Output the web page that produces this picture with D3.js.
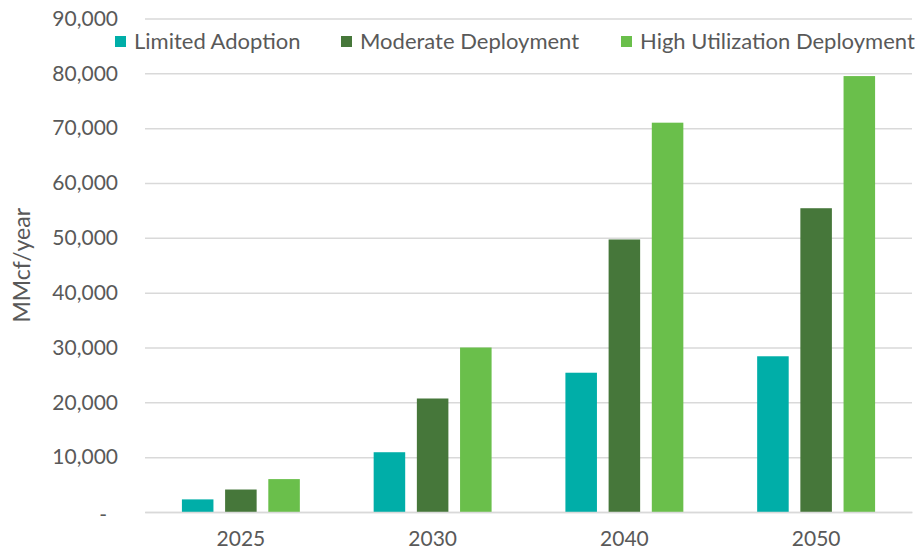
<!DOCTYPE html>
<html>
<head>
<meta charset="utf-8">
<script src="https://cdn.jsdelivr.net/npm/d3@7"></script>
<style>
  body { margin: 0; background: #fff; }
  svg text { font-family: Lato, "Open Sans", sans-serif; fill: #595959; }
</style>
</head>
<body>
<svg width="916" height="554"></svg>
<script>
// chart data
var years = ["2025", "2030", "2040", "2050"];
var seriesNames = ["Limited Adoption", "Moderate Deployment", "High Utilization Deployment"];
var limitedAdoption = [2300, 10900, 25400, 28400];
var moderateDeployment = [4100, 20700, 49700, 55400];
var highUtilization = [6000, 30000, 71000, 79500];
var yTicks = [0, 10000, 20000, 30000, 40000, 50000, 60000, 70000, 80000, 90000];
var colors = ["#00AEA8", "#46773A", "#6ABF4B"];

var svg = d3.select("svg"),
    margin = {top: 18.5, right: 4, bottom: 42, left: 145},
    width = +svg.attr("width") - margin.left - margin.right,
    height = +svg.attr("height") - margin.top - margin.bottom;

var seriesValues = [limitedAdoption, moderateDeployment, highUtilization];

var x0 = d3.scaleBand().domain(years).range([0, width]).paddingInner(0.385).paddingOuter(0.1925),
    x1 = d3.scaleBand().domain(d3.range(seriesNames.length)).range([0, x0.bandwidth()]).paddingInner(0.27),
    y = d3.scaleLinear().domain([0, 90000]).range([height, 0]);

var g = svg.append("g")
    .attr("transform", "translate(" + margin.left + "," + margin.top + ")");

// gridlines
var yAxis = d3.axisLeft(y)
    .tickValues(yTicks)
    .tickSize(-width)
    .tickPadding(27)
    .tickFormat(function(d) { return d === 0 ? "-" : d3.format(",")(d); });

g.append("g")
    .attr("class", "axis axis--y")
    .call(yAxis)
    .call(function(a) {
        a.select(".domain").remove();
        a.selectAll(".tick line").attr("stroke", "#D9D9D9").attr("stroke-width", 1.5);
        a.selectAll(".tick text").attr("font-size", 21).attr("fill", "#595959");
        // accounting-style dash for zero sits further left
        a.selectAll(".tick text").filter(function(d) { return d === 0; })
            .attr("dx", -11).attr("dy", "0.45em");
    });

// bars
var groups = g.append("g").selectAll("g")
    .data(years)
    .enter().append("g")
    .attr("transform", function(d) { return "translate(" + x0(d) + ",0)"; });

groups.selectAll("rect")
    .data(function(d, i) { return seriesValues.map(function(s, k) { return {k: k, v: s[i]}; }); })
    .enter().append("rect")
    .attr("x", function(d) { return x1(d.k); })
    .attr("width", x1.bandwidth())
    .attr("y", function(d) { return y(d.v); })
    .attr("height", function(d) { return height - y(d.v); })
    .attr("fill", function(d) { return colors[d.k]; });

// x axis
var xAxis = d3.axisBottom(x0).tickSize(0).tickPadding(19);
g.append("g")
    .attr("class", "axis axis--x")
    .attr("transform", "translate(0," + height + ")")
    .call(xAxis)
    .call(function(a) {
        a.select(".domain").attr("stroke", "#D9D9D9").attr("stroke-width", 1.5);
        a.selectAll(".tick text").attr("font-size", 21).attr("fill", "#595959");
    });

// y title
svg.append("text")
    .attr("transform", "translate(30," + (margin.top + height / 2) + ") rotate(-90)")
    .attr("text-anchor", "middle")
    .attr("font-size", 23)
    .text("MMcf/year");

// legend
var legendX = [115, 341, 621];
var legend = svg.append("g").selectAll("g")
    .data(seriesNames)
    .enter().append("g")
    .attr("transform", function(d, i) { return "translate(" + legendX[i] + ",36)"; });

legend.append("rect")
    .attr("width", 11)
    .attr("height", 11)
    .attr("fill", function(d, i) { return colors[i]; });

legend.append("text")
    .attr("x", 19)
    .attr("y", 13)
    .attr("font-size", 22)
    .text(function(d) { return d; });
</script>
</body>
</html>
